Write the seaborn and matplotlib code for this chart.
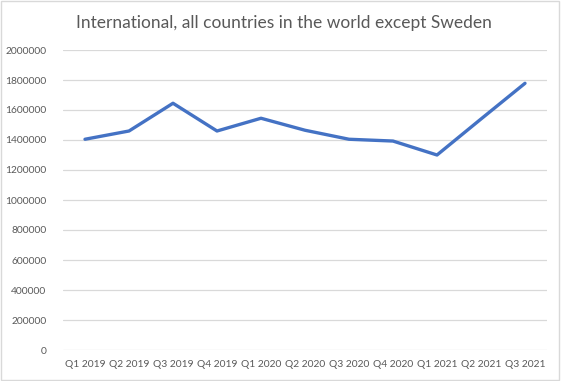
import matplotlib
matplotlib.use("Agg")
import matplotlib.pyplot as plt
import pandas as pd
import seaborn as sns

quarters = [
    "Q1 2019", "Q2 2019", "Q3 2019", "Q4 2019",
    "Q1 2020", "Q2 2020", "Q3 2020", "Q4 2020",
    "Q1 2021", "Q2 2021", "Q3 2021",
]
visitors = [
    1405000, 1460000, 1645000, 1460000,
    1545000, 1465000, 1405000, 1393000,
    1300000, 1540000, 1778000,
]
y_ticks = list(range(0, 2000001, 200000))
title = "International, all countries in the world except Sweden"

sns.set_style("white")
plt.rcParams["font.family"] = ["Lato", "DejaVu Sans"]

df = pd.DataFrame({"quarter": quarters, "visitors": visitors})

fig = plt.figure(figsize=(5.61, 3.81), dpi=100)
ax = fig.add_axes([63 / 561, 1 - 350 / 381, 484 / 561, 300 / 381])

sns.lineplot(data=df, x="quarter", y="visitors", ax=ax,
             color="#4472C4", linewidth=2.4, sort=False)

ax.set_xlim(-0.5, len(quarters) - 0.5)
ax.set_ylim(0, 2000000)
ax.set_yticks(y_ticks, [str(v) for v in y_ticks])
ax.yaxis.grid(True, color="#D9D9D9", linewidth=0.9)
ax.set_axisbelow(True)
for s in ax.spines.values():
    s.set_visible(False)
ax.tick_params(axis="both", length=0, labelsize=7.4, labelcolor="#595959")
ax.tick_params(axis="y", pad=12)
ax.tick_params(axis="x", pad=7)
ax.set_xlabel("")
ax.set_ylabel("")

fig.text(284 / 561, 1 - 23 / 381, title, ha="center", va="center",
         fontsize=12.5, color="#595959")

# light outer border like the Excel chart area
fig.patches.append(plt.Rectangle((0.002, 0.003), 0.995, 0.994,
                                 transform=fig.transFigure, fill=False,
                                 edgecolor="#D9D9D9", linewidth=1))

fig.savefig("out.png", dpi=100)
